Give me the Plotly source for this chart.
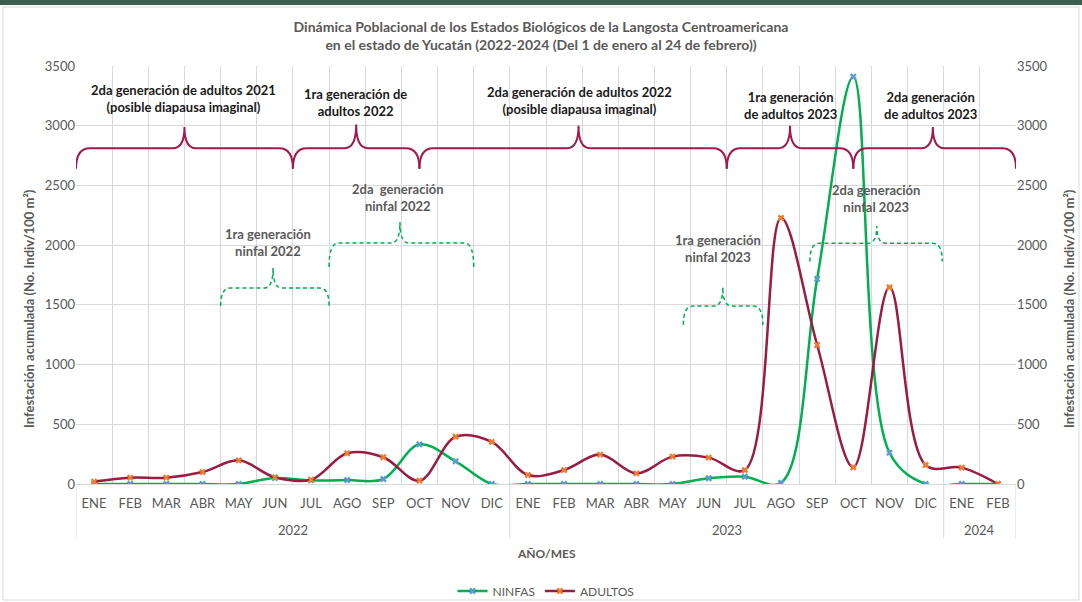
import plotly.graph_objects as go

# ---------------- data ----------------
years = ["2022"] * 12 + ["2023"] * 12 + ["2024"] * 2
months = ["ENE", "FEB", "MAR", "ABR", "MAY", "JUN", "JUL", "AGO", "SEP", "OCT", "NOV", "DIC"] * 2 + ["ENE", "FEB"]

ninfas = [0, 0, 0, 0, 0, 50, 30, 33, 42, 332, 190, 0,
          0, 0, 0, 0, 0, 48, 61, 10, 1717, 3410, 262, 0,
          0, 0]
adultos = [20, 53, 53, 100, 198, 56, 36, 257, 224, 28, 396, 352,
           75, 117, 246, 89, 229, 221, 117, 2228, 1164, 140, 1647, 159,
           137, 0]

y_ticks = [0, 500, 1000, 1500, 2000, 2500, 3000, 3500]

# generation labels
adult_labels = [
    "2da generación de adultos 2021<br>(posible diapausa imaginal)",
    "1ra generación de<br>adultos 2022",
    "2da generación de adultos 2022<br>(posible diapausa imaginal)",
    "1ra generación<br>de adultos 2023",
    "2da generación<br>de adultos 2023",
]
nymph_labels = [
    "1ra generación<br>ninfal 2022",
    "2da  generación<br>ninfal 2022",
    "1ra generación<br>ninfal 2023",
    "2da generación<br>ninfal 2023",
]

# ---------------- annotation geometry (category index units / axis values) ----------------
# brace: (x_start, x_end, x_tip, y_end, y_flat, y_tip)
adult_braces = [
    (-0.5, 5.5, 2.5, 2640, 2812, 2990),
    (5.5, 9.0, 7.25, 2640, 2812, 3010),
    (9.0, 17.5, 13.4, 2640, 2812, 3000),
    (17.5, 21.0, 19.25, 2640, 2812, 3000),
    (21.0, 25.5, 23.2, 2640, 2812, 2990),
]
adult_label_pos = [(2.46, 3225), (7.22, 3195), (13.44, 3212), (19.25, 3170), (23.13, 3170)]

nymph_braces = [
    (3.5, 6.5, 4.95, 1490, 1641, 1809),
    (6.5, 10.5, 8.46, 1817, 2018, 2194),
    (16.3, 18.5, 17.39, 1332, 1490, 1650),
    (19.8, 23.46, 21.65, 1862, 2016, 2161),
]
nymph_label_pos = [(4.81, 2018), (8.41, 2395), (17.26, 1972), (21.63, 2391)]

N = len(months)
idx = list(range(N))
FONT = "Lato, Roboto, sans-serif"
GRAY = "#595959"
GRID = "#D9D9D9"
GREEN = "#00B050"
RED = "#9B1B42"

# plot-area pixel frame used to express paper offsets
L, R, T, B = 76, 1016, 66, 484


def py(pix):
    return (B - pix) / (B - T)


def pxp(pix):
    return (pix - L) / (R - L)


def brace_path(x0, x1, xm, ye, yf, yt, dx_end, dx_tip):
    return (f"M {x0},{ye} Q {x0},{yf} {x0 + dx_end},{yf} "
            f"L {xm - dx_tip},{yf} Q {xm},{yf} {xm},{yt} "
            f"Q {xm},{yf} {xm + dx_tip},{yf} "
            f"L {x1 - dx_end},{yf} Q {x1},{yf} {x1},{ye}")


fig = go.Figure()
fig.add_trace(go.Scatter(
    x=idx, y=ninfas, name="NINFAS", mode="lines+markers",
    line=dict(color=GREEN, width=2.5, shape="spline", smoothing=1.0),
    marker=dict(symbol="x", size=6, color="#5B9BD5"),
))
fig.add_trace(go.Scatter(
    x=idx, y=adultos, name="ADULTOS", mode="lines+markers",
    line=dict(color=RED, width=2.5, shape="spline", smoothing=1.0),
    marker=dict(symbol="x", size=6, color="#ED7D31"),
))
# helper trace so the secondary axis is drawn
fig.add_trace(go.Scatter(
    x=idx, y=adultos, yaxis="y2", mode="lines",
    line=dict(width=0), opacity=0, showlegend=False, hoverinfo="skip",
))

shapes = []
for (x0, x1, xm, ye, yf, yt) in adult_braces:
    shapes.append(dict(type="path", xref="x", yref="y",
                       path=brace_path(x0, x1, xm, ye, yf, yt, 0.38, 0.32),
                       line=dict(color="#A3194B", width=2)))
for (x0, x1, xm, ye, yf, yt) in nymph_braces:
    shapes.append(dict(type="path", xref="x", yref="y",
                       path=brace_path(x0, x1, xm, ye, yf, yt, 0.26, 0.24),
                       line=dict(color=GREEN, width=1.5, dash="4px,3px")))

# year group dividers below the axis
year_names = []
year_bounds = [-0.5]
for i, yv in enumerate(years):
    if not year_names or year_names[-1] != yv:
        if year_names:
            year_bounds.append(i - 0.5)
        year_names.append(yv)
year_bounds.append(N - 0.5)
for xb in year_bounds:
    shapes.append(dict(type="line", xref="x", yref="paper", x0=xb, x1=xb,
                       y0=0, y1=py(538), line=dict(color=GRID, width=1)))

# frame & top stripe
shapes.append(dict(type="rect", xref="paper", yref="paper",
                   x0=pxp(3), x1=pxp(1079), y0=py(600), y1=py(7),
                   line=dict(color=GRID, width=1), layer="below"))
shapes.append(dict(type="rect", xref="paper", yref="paper",
                   x0=pxp(0), x1=pxp(1082), y0=py(5), y1=py(-2),
                   line=dict(width=0), fillcolor="#3B5E50"))

annotations = []
for txt, (x, y) in zip(adult_labels, adult_label_pos):
    annotations.append(dict(x=x, y=y, xref="x", yref="y", text=f"<b>{txt}</b>",
                            xanchor="center", yanchor="middle",
                            showarrow=False, font=dict(family=FONT, size=13, color="#1a1a1a")))
for txt, (x, y) in zip(nymph_labels, nymph_label_pos):
    annotations.append(dict(x=x, y=y, xref="x", yref="y", text=f"<b>{txt}</b>",
                            xanchor="center", yanchor="middle",
                            showarrow=False, font=dict(family=FONT, size=13, color=GRAY)))
# year labels
for k, yname in enumerate(year_names):
    annotations.append(dict(x=(year_bounds[k] + year_bounds[k + 1]) / 2, y=py(530), xref="x", yref="paper",
                            text=yname, showarrow=False, xanchor="center", yanchor="middle",
                            font=dict(family=FONT, size=13, color=GRAY)))
# x-axis title
annotations.append(dict(x=0.5, y=py(553), xref="paper", yref="paper", text="<b>AÑO/MES</b>",
                        showarrow=False, xanchor="center", yanchor="middle",
                        font=dict(family=FONT, size=12, color=GRAY)))
# y-axis titles (left and right)
ytitle = "<b>Infestación acumulada (No. Indiv/100 m²)</b>"
for xpix in (29, 1069):
    annotations.append(dict(x=pxp(xpix), y=py(309), xref="paper", yref="paper", text=ytitle,
                            textangle=-90, showarrow=False, xanchor="center", yanchor="middle",
                            font=dict(family=FONT, size=13, color=GRAY)))

fig.update_layout(
    width=1082, height=602,
    paper_bgcolor="white", plot_bgcolor="white",
    margin=dict(l=L, r=1082 - R, t=T, b=602 - B),
    title=dict(text="<b>Dinámica Poblacional de los Estados Biológicos de la Langosta Centroamericana<br>"
                    "en el estado de Yucatán (2022-2024 (Del 1 de enero al 24 de febrero))</b>",
               x=0.5, xanchor="center", y=1 - 32 / 602, yanchor="middle", yref="container",
               font=dict(family=FONT, size=14, color=GRAY)),
    font=dict(family=FONT, size=12, color=GRAY),
    xaxis=dict(range=[-0.5, N - 0.5], tickmode="array", tickvals=idx, ticktext=months,
               showgrid=False, zeroline=False, showline=True, linecolor=GRID,
               ticks="", tickangle=0, ticklabelstandoff=7,
               tickfont=dict(family=FONT, size=13, color=GRAY),
               minor=dict(tickvals=[i - 0.5 for i in range(N + 1)], showgrid=True,
                          gridcolor=GRID, gridwidth=1, ticks=""),
               automargin=False),
    yaxis=dict(range=[0, 3500], tickvals=y_ticks, showgrid=True, gridcolor=GRID,
               zeroline=False, ticks="", tickfont=dict(family=FONT, size=13, color=GRAY),
               automargin=False),
    yaxis2=dict(range=[0, 3500], tickvals=y_ticks, overlaying="y", side="right", showgrid=False,
                zeroline=False, ticks="", tickfont=dict(family=FONT, size=13, color=GRAY),
                automargin=False),
    legend=dict(orientation="h", x=0.5, xanchor="center", yref="container", y=1 - 591 / 602,
                yanchor="middle",
                font=dict(family=FONT, size=12, color=GRAY), bgcolor="rgba(0,0,0,0)",
                itemwidth=30),
    shapes=shapes,
    annotations=annotations,
)

fig.write_html("out.html", config={"displayModeBar": False},
               post_script="document.body.style.margin='0';document.body.style.overflow='hidden';")
